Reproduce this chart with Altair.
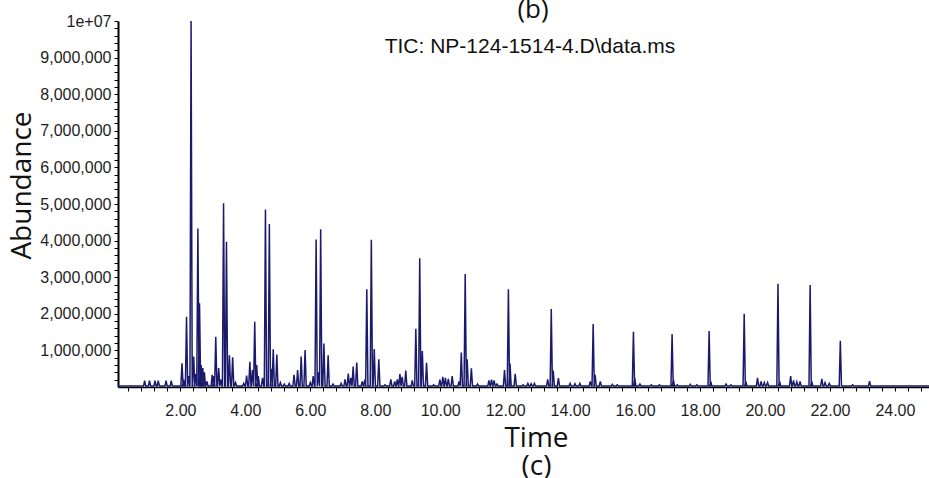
import altair as alt
import pandas as pd

# Peak retention times (min) and apex abundances (millions of counts)
peak_time = [
    0.90, 1.05, 1.22, 1.32, 1.56, 1.72,
    2.05, 2.10, 2.19, 2.25, 2.33, 2.41, 2.47, 2.54, 2.59, 2.64, 2.69, 2.74, 2.82,
    2.98, 3.03, 3.09, 3.18, 3.25, 3.33, 3.42, 3.51, 3.61, 3.70,
    3.95, 4.04, 4.14, 4.22, 4.29, 4.35, 4.40, 4.53, 4.62, 4.74, 4.80, 4.86, 4.97,
    5.08, 5.20, 5.35, 5.50, 5.61, 5.72, 5.84, 6.00, 6.09, 6.18, 6.25, 6.32, 6.42,
    6.55, 6.70, 6.95, 7.07, 7.17, 7.25, 7.32, 7.43, 7.60, 7.68, 7.74, 7.88, 7.97,
    8.11, 8.30, 8.48, 8.60, 8.68, 8.76, 8.83, 8.94, 9.14, 9.25, 9.37, 9.45, 9.58,
    9.80, 9.99, 10.08, 10.16, 10.25, 10.37, 10.58, 10.65, 10.77, 10.83, 10.96,
    11.15, 11.50, 11.58, 11.66, 11.75, 11.98, 12.10, 12.15, 12.31, 12.55, 12.70,
    12.80, 12.90, 13.31, 13.42, 13.48, 13.64, 14.00, 14.15, 14.30, 14.62, 14.71,
    14.77, 14.93, 15.30, 15.45, 15.95, 15.99, 16.15, 16.50, 16.75, 17.14, 17.18,
    17.30, 17.70, 17.90, 18.28, 18.33, 18.80, 18.95, 19.36, 19.41, 19.77, 19.88,
    19.98, 20.08, 20.40, 20.45, 20.79, 20.88, 20.98, 21.08, 21.39, 21.44, 21.75,
    21.85, 21.98, 22.32, 22.70, 23.22,
]
peak_abund_millions = [
    0.17, 0.17, 0.17, 0.17, 0.17, 0.17,
    0.65, 0.20, 1.92, 0.30, 10.0, 0.83, 0.35, 4.33, 2.29, 0.60, 0.52, 0.40, 0.15,
    0.33, 0.30, 1.37, 0.52, 0.20, 5.02, 3.97, 0.87, 0.81, 0.12,
    0.10, 0.31, 0.69, 0.46, 1.78, 0.60, 0.30, 0.25, 4.85, 4.45, 0.50, 1.03, 0.89,
    0.12, 0.08, 0.10, 0.33, 0.46, 0.83, 1.01, 0.12, 0.30, 4.03, 0.40, 4.31, 1.19,
    0.87, 0.08, 0.10, 0.21, 0.37, 0.25, 0.56, 0.67, 0.15, 0.20, 2.67, 4.02, 1.04,
    0.76, 0.06, 0.21, 0.15, 0.21, 0.35, 0.28, 0.45, 0.18, 1.59, 3.52, 0.98, 0.66,
    0.06, 0.20, 0.28, 0.25, 0.22, 0.30, 0.15, 0.94, 3.09, 0.76, 0.51,
    0.08, 0.18, 0.20, 0.18, 0.08, 0.46, 2.67, 0.64, 0.36, 0.06, 0.10,
    0.09, 0.10, 0.21, 2.13, 0.45, 0.24, 0.10, 0.09, 0.10, 0.15, 1.72,
    0.33, 0.15, 0.07, 0.06, 1.51, 0.25, 0.08, 0.06, 0.06, 1.45, 0.20,
    0.06, 0.07, 0.06, 1.53, 0.15, 0.08, 0.06, 2.00, 0.15, 0.25, 0.15,
    0.12, 0.12, 2.82, 0.15, 0.30, 0.18, 0.14, 0.15, 2.79, 0.15, 0.22,
    0.12, 0.10, 1.26, 0.06, 0.16,
]
baseline_abund = 25000
time_start, time_end = 0.08, 25.05

x_tick_values = [round(0.4 * i, 1) for i in range(1, 63)]
y_tick_values = [200000 * i for i in range(1, 51)]

# Build trace table (triangular peaks on a flat baseline)
half_w = 0.035
rows = [{"seq": 0, "Time": time_start, "Abundance": baseline_abund}]
for t, h in zip(peak_time, peak_abund_millions):
    for dt, a in ((-half_w, baseline_abund), (0.0, h * 1e6), (half_w, baseline_abund)):
        rows.append({"seq": len(rows), "Time": t + dt, "Abundance": a})
rows.append({"seq": len(rows), "Time": time_end, "Abundance": baseline_abund})
trace = pd.DataFrame(rows)

W, H = 811, 366
LEFT, TOP = 118, 21

line = alt.Chart(trace).mark_line(color="#1a1a6c", strokeWidth=1.5, clip=True).encode(
    x=alt.X(
        "Time:Q",
        scale=alt.Scale(domain=[time_start, time_end], nice=False, zero=False),
        axis=alt.Axis(
            values=x_tick_values,
            labelExpr="abs(datum.value/2 - round(datum.value/2)) < 0.001 ? format(datum.value, '.2f') : ''",
            labelOverlap=False,
            grid=False,
            tickSize=4,
            tickColor="#000000",
            domainColor="#000000",
            domainWidth=1.6,
            labelFont="Liberation Sans",
            labelFontSize=16,
            labelColor="#1e1e1e",
            labelPadding=11,
            title=["Time", "(c)"],
            titleFont="Open Sans",
            titleFontSize=28,
            titleFontWeight="normal",
            titleColor="#111111",
            titleLineHeight=28,
            titleX=418,
            titleY=37,
            titleAlign="center",
            titleBaseline="top",
        ),
    ),
    y=alt.Y(
        "Abundance:Q",
        scale=alt.Scale(domain=[0, 10000000], nice=False),
        axis=alt.Axis(
            values=y_tick_values,
            labelExpr="datum.value % 1000000 == 0 ? (datum.value == 10000000 ? '1e+07' : format(datum.value, ',')) : ''",
            labelOverlap=False,
            grid=False,
            tickSize=4,
            tickColor="#000000",
            domainColor="#000000",
            domainWidth=2,
            labelFont="Liberation Sans",
            labelFontSize=16,
            labelColor="#1e1e1e",
            labelPadding=3,
            title="Abundance",
            titleFont="Open Sans",
            titleFontSize=28,
            titleFontWeight="normal",
            titleColor="#111111",
            titleX=-96,
            titleY=164,
            titleAngle=270,
            titleAlign="center",
            titleBaseline="middle",
        ),
    ),
    order="seq:Q",
)

notes = pd.DataFrame({"label": ["(b)"]})
b_text = alt.Chart(notes).mark_text(
    font="Open Sans", fontSize=26, color="#111111", align="center", baseline="middle"
).encode(x=alt.value(415), y=alt.value(-11), text="label:N")

tic = pd.DataFrame({"label": ["TIC: NP-124-1514-4.D\\data.ms"]})
tic_text = alt.Chart(tic).mark_text(
    font="Liberation Sans", fontSize=21, color="#111111", align="center", baseline="middle"
).encode(x=alt.value(412), y=alt.value(26), text="label:N")

chart = alt.layer(line, b_text, tic_text).properties(
    width=W,
    height=H,
    autosize=alt.AutoSizeParams(type="none"),
    padding={"left": LEFT, "top": TOP, "right": 929 - LEFT - W, "bottom": 478 - TOP - H},
    background="#ffffff",
).configure_view(stroke=None)

chart.save("out.html", embed_options={"renderer": "svg", "actions": False})
